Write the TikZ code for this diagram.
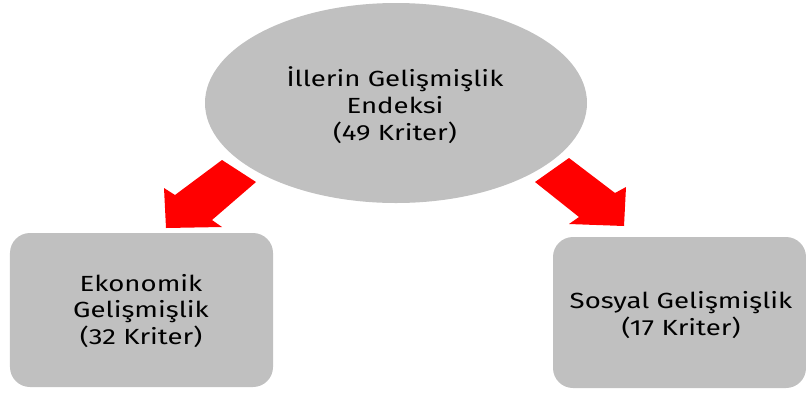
\documentclass[tikz,border=0pt]{standalone}
\usepackage{fontspec}
\setmainfont{Fira Sans}[FakeStretch=1.26]
\definecolor{boxgray}{RGB}{192,192,192}
\definecolor{arrred}{RGB}{255,0,0}
\tikzset{
  txt/.style={align=center, font=\fontsize{22}{27}\selectfont, text=black},
  oval/.style={ellipse, fill=boxgray, inner sep=0pt, minimum width=382bp, minimum height=200bp},
  card/.style={rectangle, rounded corners=20bp, fill=boxgray, inner sep=0pt},
  blockarrow/.style={fill=arrred, draw=none}
}
\usetikzlibrary{shapes.geometric}
\begin{document}
\begin{tikzpicture}[x=1bp,y=-1bp]
\useasboundingbox (0,0) rectangle (806,392);
\node[oval] (top) at (396,103) {};
\node[txt] (toptxt) at (395,105) {İllerin Gelişmişlik\\Endeksi\\(49 Kriter)};
\node[card, minimum width=263bp, minimum height=154bp] (eko) at (141.5,310) {};
\node[txt] (ekotxt) at (141,311) {Ekonomik\\Gelişmişlik\\(32 Kriter)};
\node[card, minimum width=253bp, minimum height=151bp] (sos) at (679.5,312.5) {};
\node[txt] (sostxt) at (681,315) {Sosyal Gelişmişlik\\(17 Kriter)};
\fill[blockarrow] (222,160) -- (256,182) -- (212,220) -- (222,227) -- (166,228) -- (164,188) -- (175,195) -- cycle;
\fill[blockarrow] (569,158) -- (615,193) -- (626,187) -- (624,226) -- (569,224) -- (579,217) -- (535,182) -- cycle;
\end{tikzpicture}
\end{document}
